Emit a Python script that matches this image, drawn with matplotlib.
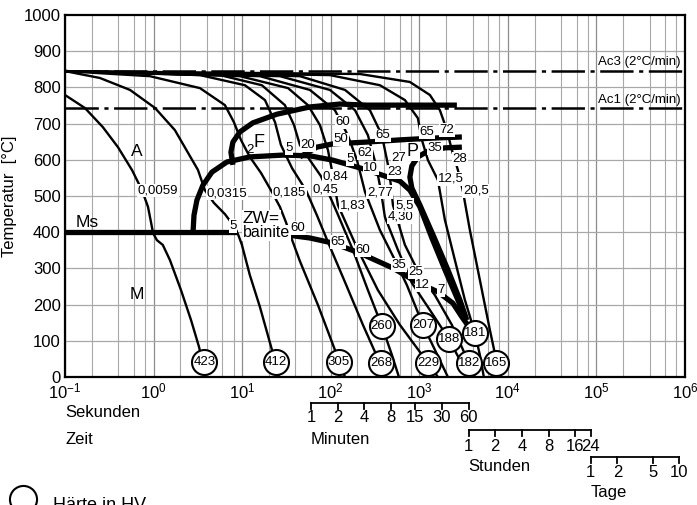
import matplotlib.pyplot as plt

plt.rcParams['font.family'] = ['Liberation Sans', 'DejaVu Sans']
plt.rcParams['mathtext.fontset'] = 'custom'
plt.rcParams['mathtext.rm'] = 'Liberation Sans'
plt.rcParams['mathtext.it'] = 'Liberation Sans'
plt.rcParams['lines.scale_dashes'] = False

# cooling curves: time [s], temperature [°C]
t_423 = [0.1, 0.168, 0.268, 0.396, 0.57, 0.74, 0.865, 0.935, 0.985, 1.09, 1.27, 1.53, 2.04, 2.65, 3.26, 3.9]
T_423 = [779, 743, 690, 635, 572, 516, 470, 428, 398, 378, 365, 323, 240, 157, 83, 0]
t_412 = [0.1, 0.248, 0.542, 1.04, 1.74, 3.17, 3.8, 4.8, 6.39, 8.07, 8.97, 9.94, 12.2, 15.9, 21.7, 26.0]
T_412 = [845, 826, 793, 743, 682, 572, 516, 481, 450, 417, 395, 365, 282, 193, 75, 0]
t_305 = [0.1, 0.91, 3.34, 6.39, 8.07, 9.69, 12.2, 16.3, 21.7, 26.7, 31.2, 35.6, 44.9, 71.7, 111.5, 144.7]
T_305 = [845, 831, 798, 751, 704, 655, 608, 564, 511, 470, 428, 387, 320, 199, 75, 0]
t_268 = [0.1, 3.34, 10.75, 18.1, 23.5, 27.4, 36.6, 52.5, 69.8, 93.0, 145, 231, 368, 420]
T_268 = [845, 834, 806, 765, 704, 641, 577, 516, 447, 373, 262, 144, 33, 0]
t_260 = [0.1, 5.61, 16.7, 30.4, 38.5, 44.9, 58.2, 77.5, 117, 178, 263, 378, 491, 589]
T_260 = [845, 834, 806, 751, 696, 641, 599, 555, 456, 351, 240, 141, 61, 0]
t_229 = [0.1, 9.44, 33.0, 55.3, 75.5, 93.0, 105.8, 120.6, 203, 341, 604, 1252, 1623]
T_229 = [845, 831, 798, 751, 696, 627, 558, 475, 351, 240, 144, 39, 0]
t_207 = [0.1, 15.9, 58.2, 111.5, 156, 198, 244, 359, 531, 724, 1098, 1501, 2104]
T_207 = [845, 831, 793, 737, 668, 599, 511, 406, 323, 254, 144, 75, 0]
t_188 = [0.1, 26.7, 97.9, 188, 263, 324, 368, 409, 574, 824, 1318, 2159, 2872, 3537]
T_188 = [845, 831, 793, 737, 668, 586, 516, 442, 351, 260, 185, 105, 47, 0]
t_182 = [0.1, 44.9, 145, 277, 378, 443, 478, 504, 688, 1016, 1501, 2332, 3630, 4242]
T_182 = [845, 831, 793, 737, 668, 586, 530, 475, 365, 282, 226, 144, 39, 0]
t_181 = [0.1, 97.9, 359, 688, 964, 1070, 1252, 1623, 1946, 2523, 3271, 4242, 4830, 5356]
T_181 = [845, 834, 806, 765, 715, 655, 599, 544, 434, 323, 213, 122, 61, 0]
t_165 = [0.1, 214, 783, 1318, 1709, 2049, 2332, 2727, 3105, 3724, 4830, 6266, 7519, 8339]
T_165 = [845, 837, 815, 779, 737, 682, 627, 572, 514, 406, 268, 130, 39, 0]

# transformation lines
nose_t = [2.79, 2.86, 3.09, 3.61, 4.56, 6.73, 12.2, 28.9, 58.2, 105.8, 256, 604, 783, 1016, 1388, 1997, 2727, 3358]
nose_T = [400, 447, 489, 530, 566, 594, 608, 613, 611, 599, 572, 541, 516, 470, 384, 290, 213, 157]
perl_t = [3025, 1946, 1252, 965, 824, 783, 824, 1016, 1462, 2104, 2872, 3445]
perl_T = [635, 633, 624, 608, 583, 552, 522, 475, 387, 296, 213, 157]
ps_t = [44.9, 69.8, 105.8, 256, 604, 1425, 3025]
ps_T = [608, 635, 644, 649, 655, 660, 663]
fs_t = [7.87, 7.47, 7.87, 9.44, 13.2, 24.7, 58.2, 127, 256, 2657]
fs_T = [586, 621, 649, 677, 702, 726, 746, 754, 751, 751]
bf_t = [32.9, 58.2, 105.8, 214, 504, 940, 1623, 2394, 3025, 3724]
bf_T = [392, 384, 370, 342, 301, 262, 235, 204, 166, 135]
ms_t = [0.1, 8.73]
ms_T = [400, 400]
ac3 = 845
ac1 = 743

# cooling parameter labels
lam_text = ['0,0059', '0,0315', '0,185', '0,45', '0,84', '1,83', '2,77', '4,30', '5,5', '12,5', '20,5']
lam_t = [0.667, 4.0, 22.3, 62.9, 81.6, 127, 256, 443, 531, 1623, 3105]
lam_T = [516, 508, 511, 519, 555, 475, 511, 442, 475, 547, 514]

# phase percentages
pct_text = ['5', '5', '20', '60', '50', '65', '5', '62', '10', '27', '23', '65', '72', '35', '28',
            '60', '65', '60', '35', '25', '12', '7']
pct_t = [7.87, 33.8, 55.3, 137, 130, 388, 165, 244, 284, 589, 531, 1218, 2049, 1501, 2872,
         42.5, 120.6, 231, 589, 916, 1098, 1753]
pct_T = [417, 633, 641, 704, 657, 668, 602, 619, 577, 605, 566, 677, 682, 632, 602,
         412, 373, 351, 309, 290, 254, 240]

# hardness HV
hv_text = ['423', '412', '305', '268', '260', '229', '207', '188', '182', '181', '165']
hv_t = [3.75, 24.1, 124, 373, 378, 1252, 1098, 2159, 3630, 4242, 7420]
hv_T = [41, 41, 41, 39, 141, 39, 144, 105, 39, 122, 39]

# secondary time scales
minutes = [1, 2, 4, 8, 15, 30, 60]
hours = [1, 2, 4, 8, 16, 24]
days = [1, 2, 5, 10]

fig = plt.figure(figsize=(6.97, 5.05), dpi=100)
ax = fig.add_axes([65 / 697, 128 / 505, 620 / 697, 362 / 505])
ax.set_xscale('log')
ax.set_xlim(0.1, 1e6)
ax.set_ylim(0, 1000)

# grid
decades = [10.0 ** k for k in range(-1, 7)]
minor = [m * d for d in decades[:-1] for m in (2, 4, 6, 8)]
for x in minor:
    ax.axvline(x, color='#a8a8a8', lw=0.8, zorder=0)
for x in decades:
    ax.axvline(x, color='#8c8c8c', lw=0.9, zorder=0)
for y in range(100, 1000, 100):
    ax.axhline(y, color='#a8a8a8', lw=0.9, zorder=0)

curves = [(t_423, T_423), (t_412, T_412), (t_305, T_305), (t_268, T_268), (t_260, T_260),
          (t_229, T_229), (t_207, T_207), (t_188, T_188), (t_182, T_182), (t_181, T_181),
          (t_165, T_165)]
for t, T in curves:
    ax.plot(t, T, color='black', lw=1.7, zorder=2, solid_joinstyle='round')

for t, T in [(nose_t, nose_T), (perl_t, perl_T), (ps_t, ps_T), (fs_t, fs_T), (bf_t, bf_T), (ms_t, ms_T)]:
    ax.plot(t, T, color='black', lw=3.8, zorder=3, solid_capstyle='butt', solid_joinstyle='round')

ax.axhline(ac3, color='black', lw=1.8, dashes=(24, 4, 3, 4), zorder=3)
ax.axhline(ac1, color='black', lw=1.8, dashes=(24, 4, 3, 4), zorder=3)
ax.text(8.97e5, 870, 'Ac3 (2°C/min)', fontsize=9.5, ha='right', va='center')
ax.text(8.97e5, 765, 'Ac1 (2°C/min)', fontsize=9.5, ha='right', va='center')

box = dict(boxstyle='square,pad=0.05', fc='white', ec='none')
for s, t, T in zip(lam_text, lam_t, lam_T):
    ax.text(t, T, s, fontsize=9.5, ha='left', va='center', bbox=box, zorder=4)
for s, t, T in zip(pct_text, pct_t, pct_T):
    ax.text(t, T, s, fontsize=9.5, ha='center', va='center', bbox=box, zorder=4)

ax.text(0.649, 624, 'A', fontsize=12.5, ha='center', va='center')
ax.text(0.649, 229, 'M', fontsize=12.5, ha='center', va='center')
ax.text(0.177, 428, 'Ms', fontsize=12.5, ha='center', va='center')
ax.text(12.2, 627, '2', fontsize=9.5, ha='center', va='center')
ax.text(15.5, 649, 'F', fontsize=13, ha='center', va='center')
ax.text(846, 624, 'P', fontsize=13, ha='center', va='center', bbox=box, zorder=4)
ax.text(10.2, 439, 'ZW=', fontsize=12.5, ha='left', va='center', bbox=box, zorder=4)
ax.text(10.2, 398, 'bainite', fontsize=11.5, ha='left', va='center', bbox=box, zorder=4)

ax.plot(hv_t, hv_T, 'o', ms=18, mfc='white', mec='black', mew=1.5, zorder=5, clip_on=False)
for s, t, T in zip(hv_text, hv_t, hv_T):
    ax.text(t, T, s, fontsize=9.5, ha='center', va='center', zorder=6)

# axes styling
for sp in ax.spines.values():
    sp.set_linewidth(1.6)
ax.set_yticks(range(0, 1001, 100))
ax.set_xticks(decades)
ax.set_xticklabels(['10$^{-1}$', '10$^{0}$', '10$^{1}$', '10$^{2}$', '10$^{3}$',
                    '10$^{4}$', '10$^{5}$', '10$^{6}$'])
ax.minorticks_off()
ax.tick_params(length=0, labelsize=12, pad=3)
ax.set_ylabel('Temperatur  [°C]', fontsize=12)
ax.yaxis.set_label_coords(-0.077, 0.5)

# time scales below the axis
tr = ax.get_xaxis_transform()


def bracket(vals, y):
    ax.plot([vals[0], vals[-1]], [y, y], color='black', lw=1.3, transform=tr, clip_on=False)
    for v in vals:
        ax.plot([v, v], [y, y - 0.017], color='black', lw=1.3, transform=tr, clip_on=False)


min_s = [m * 60 for m in minutes]
hour_s = [h * 3600 for h in hours]
day_s = [d * 86400 for d in days]
bracket(min_s, -0.072)
bracket(hour_s, -0.146)
bracket(day_s, -0.221)
for v, m in zip(min_s, minutes):
    ax.text(v, -0.113, str(m), fontsize=12, ha='center', va='center', transform=tr)
for v, h in zip(hour_s, hours):
    ax.text(v, -0.191, str(h), fontsize=12, ha='center', va='center', transform=tr)
for v, d in zip(day_s, days):
    ax.text(v, -0.265, str(d), fontsize=12, ha='center', va='center', transform=tr)

ax.text(0.0, -0.099, 'Sekunden', fontsize=12, ha='left', va='center', transform=ax.transAxes)
ax.text(0.0, -0.174, 'Zeit', fontsize=12, ha='left', va='center', transform=ax.transAxes)
ax.text(min_s[0], -0.174, 'Minuten', fontsize=12, ha='left', va='center', transform=tr)
ax.text(hour_s[0], -0.246, 'Stunden', fontsize=12, ha='left', va='center', transform=tr)
ax.text(day_s[0], -0.320, 'Tage', fontsize=12, ha='left', va='center', transform=tr)

# hardness legend
fig.lines.append(plt.Line2D([23 / 697], [(505 - 499) / 505], marker='o', ms=19.5, mfc='white',
                            mec='black', mew=1.5, transform=fig.transFigure))
fig.text(53 / 697, 0.0, 'Härte in HV', fontsize=13, ha='left', va='center')

fig.savefig('out.png', dpi=100)
